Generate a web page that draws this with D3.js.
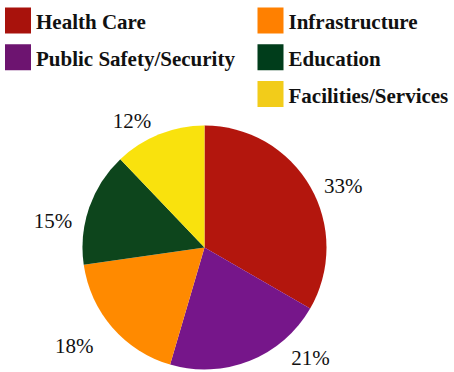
<!DOCTYPE html>
<html>
<head>
<meta charset="utf-8">
<script src="https://cdn.jsdelivr.net/npm/d3@7"></script>
<style>
  html, body { margin: 0; padding: 0; background: #fff; }
  svg { display: block; }
  svg text { font-family: "Liberation Serif", "Times New Roman", Times, serif; fill: #111; }
  .pct { font-size: 21px; }
  .legend-label { font-size: 21px; font-weight: bold; }
</style>
</head>
<body>
<svg id="chart" width="454" height="372"></svg>
<script>
// Budget shares by category (percent), clockwise from 12 o'clock
const categories = ["Health Care", "Public Safety/Security", "Infrastructure", "Education", "Facilities/Services"];
const shares = [33, 21, 18, 15, 12];
const sliceColors = ["#b3130b", "#76168a", "#ff8a05", "#0c451b", "#f9e20a"];
const legendColors = ["#a8120c", "#6d1470", "#ff8000", "#003d1b", "#f2cc1a"];
// legend placement: column and row of each category
const legendColumn = [0, 0, 1, 1, 1];
const legendRow = [0, 1, 0, 1, 2];
// angular nudge (degrees) applied to each percentage label
const labelNudge = [6, -22, 4, -9, -8];
const labelRadius = [152, 153, 163, 154, 146];

const svg = d3.select("#chart");
const cx = 204.5, cy = 247.5, r = 122;

const data = categories.map((c, i) => ({ name: c, value: shares[i], i }));

const pie = d3.pie().sort(null).value(d => d.value);
const arcs = pie(data);
const arc = d3.arc().innerRadius(0).outerRadius(r);

const defs = svg.append("defs");
defs.append("filter").attr("id", "soft")
  .attr("x", "-10%").attr("y", "-10%").attr("width", "120%").attr("height", "120%")
  .append("feGaussianBlur").attr("stdDeviation", 0.7);

const g = svg.append("g").attr("transform", `translate(${cx},${cy})`);
g.append("g").attr("filter", "url(#soft)")
  .selectAll("path").data(arcs).join("path")
  .attr("d", arc)
  .attr("fill", d => sliceColors[d.data.i]);

// percentage labels around the pie
g.selectAll("text.pct").data(arcs).join("text")
  .attr("class", "pct")
  .each(function (d) {
    const mid = (d.startAngle + d.endAngle) / 2 + labelNudge[d.data.i] * Math.PI / 180;
    const rr = labelRadius[d.data.i];
    d3.select(this)
      .attr("x", Math.sin(mid) * rr)
      .attr("y", -Math.cos(mid) * rr);
  })
  .attr("text-anchor", "middle")
  .attr("dy", "0.35em")
  .text(d => d.data.value + "%");

// legend
const colX = d3.scaleOrdinal().domain([0, 1]).range([5, 257.5]);
const rowY = d3.scaleLinear().domain([0, 2]).range([7.5, 81]);
const lg = svg.append("g").selectAll("g").data(data).join("g")
  .attr("transform", d => `translate(${colX(legendColumn[d.i])},${rowY(legendRow[d.i])})`);
lg.append("rect")
  .attr("width", 26).attr("height", 26)
  .attr("fill", d => legendColors[d.i]);
lg.append("text")
  .attr("class", "legend-label")
  .attr("x", 31).attr("y", 21.5)
  .text(d => d.name);
</script>
</body>
</html>
